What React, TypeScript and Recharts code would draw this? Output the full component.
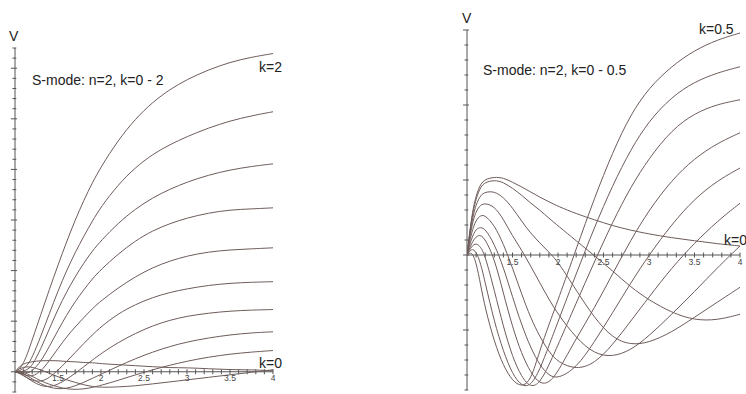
import { LineChart, Line, XAxis, YAxis, ReferenceLine } from 'recharts';

// shared sample points along x
const xs = [1, 1.05, 1.1, 1.15, 1.2, 1.3, 1.4, 1.5, 1.6, 1.7, 1.8, 1.9, 2, 2.2, 2.4, 2.6, 2.8, 3, 3.25, 3.5, 3.75, 4];

// left panel, k = 0 .. 2
const leftK00 = [0, 0.1, 0.16, 0.18, 0.2, 0.22, 0.22, 0.22, 0.2, 0.2, 0.18, 0.18, 0.16, 0.14, 0.12, 0.1, 0.08, 0.08, 0.06, 0.04, 0.04, 0.02];
const leftK02 = [0, 0.06, 0.09, 0.1, 0.09, 0.04, -0.03, -0.1, -0.16, -0.21, -0.26, -0.29, -0.31, -0.3, -0.28, -0.24, -0.2, -0.16, -0.11, -0.06, -0.01, 0.04];
const leftK04 = [0, 0.01, -0.01, -0.05, -0.09, -0.18, -0.25, -0.3, -0.34, -0.35, -0.34, -0.31, -0.27, -0.17, -0.06, 0.04, 0.13, 0.21, 0.29, 0.35, 0.39, 0.42];
const leftK06 = [0, -0.01, -0.04, -0.09, -0.14, -0.24, -0.31, -0.34, -0.33, -0.28, -0.21, -0.13, -0.05, 0.11, 0.26, 0.39, 0.5, 0.59, 0.67, 0.73, 0.77, 0.79];
const leftK08 = [0, -0.02, -0.07, -0.13, -0.19, -0.28, -0.3, -0.25, -0.15, -0.03, 0.1, 0.23, 0.36, 0.58, 0.76, 0.91, 1.02, 1.1, 1.16, 1.2, 1.22, 1.23];
const leftK10 = [0, -0.03, -0.08, -0.13, -0.17, -0.2, -0.12, 0.03, 0.2, 0.38, 0.56, 0.73, 0.89, 1.15, 1.33, 1.47, 1.57, 1.64, 1.71, 1.75, 1.77, 1.78];
const leftK12 = [0, -0.02, -0.05, -0.08, -0.09, 0, 0.22, 0.46, 0.69, 0.89, 1.07, 1.25, 1.4, 1.66, 1.88, 2.06, 2.19, 2.29, 2.37, 2.41, 2.43, 2.45];
const leftK14 = [0, -0.01, -0.02, -0.02, 0.01, 0.2, 0.5, 0.82, 1.12, 1.39, 1.62, 1.84, 2.02, 2.33, 2.59, 2.79, 2.93, 3.04, 3.14, 3.2, 3.22, 3.24];
const leftK16 = [0, 0, 0.01, 0.05, 0.12, 0.45, 0.85, 1.24, 1.58, 1.88, 2.15, 2.39, 2.59, 2.94, 3.22, 3.44, 3.61, 3.75, 3.89, 3.99, 4.06, 4.11];
const leftK18 = [0, 0.02, 0.06, 0.14, 0.28, 0.7, 1.15, 1.6, 2, 2.36, 2.68, 2.98, 3.26, 3.7, 4.04, 4.3, 4.49, 4.65, 4.82, 4.96, 5.06, 5.14];
const leftK20 = [0, 0.05, 0.17, 0.38, 0.63, 1.13, 1.63, 2.11, 2.57, 3, 3.39, 3.74, 4.05, 4.58, 5, 5.33, 5.58, 5.78, 5.97, 6.12, 6.22, 6.29];

// right panel, k = 0 .. 0.5
const rightR0 = [0, 0.52, 0.8, 0.95, 1.01, 1.04, 1.03, 0.97, 0.91, 0.84, 0.77, 0.71, 0.65, 0.55, 0.47, 0.39, 0.33, 0.28, 0.23, 0.19, 0.15, 0.12];
const rightR1 = [0, 0.49, 0.76, 0.91, 0.97, 1, 0.97, 0.89, 0.8, 0.69, 0.6, 0.49, 0.39, 0.19, -0.01, -0.21, -0.43, -0.6, -0.77, -0.87, -0.87, -0.79];
const rightR2 = [0, 0.44, 0.68, 0.8, 0.84, 0.85, 0.77, 0.63, 0.45, 0.29, 0.16, 0.04, -0.09, -0.47, -0.84, -1.11, -1.2, -1.17, -1.03, -0.83, -0.63, -0.43];
const rightR3 = [0, 0.39, 0.59, 0.67, 0.69, 0.65, 0.48, 0.25, 0.07, -0.15, -0.37, -0.59, -0.79, -1.11, -1.32, -1.36, -1.27, -1.08, -0.79, -0.49, -0.17, 0.12];
const rightR4 = [0, 0.31, 0.47, 0.53, 0.53, 0.4, 0.15, -0.17, -0.52, -0.84, -1.09, -1.29, -1.43, -1.53, -1.45, -1.2, -0.88, -0.56, -0.17, 0.16, 0.45, 0.69];
const rightR5 = [0, 0.23, 0.35, 0.37, 0.35, 0.15, -0.16, -0.56, -0.93, -1.24, -1.47, -1.61, -1.65, -1.51, -1.16, -0.77, -0.37, 0, 0.41, 0.75, 0.99, 1.16];
const rightR6 = [0, 0.16, 0.25, 0.27, 0.21, -0.04, -0.51, -0.96, -1.32, -1.57, -1.72, -1.71, -1.56, -1.11, -0.71, -0.25, 0.2, 0.6, 1, 1.29, 1.49, 1.63];
const rightR7 = [0, 0.12, 0.16, 0.11, -0.01, -0.47, -0.96, -1.36, -1.63, -1.77, -1.71, -1.47, -1.2, -0.64, -0.09, 0.44, 0.91, 1.29, 1.67, 1.89, 2.01, 2.07];
const rightR8 = [0, 0.09, 0.05, -0.11, -0.37, -0.89, -1.29, -1.59, -1.75, -1.75, -1.53, -1.21, -0.89, -0.25, 0.37, 0.93, 1.41, 1.79, 2.11, 2.31, 2.43, 2.51];
const rightR9 = [0, 0.05, -0.09, -0.4, -0.71, -1.16, -1.48, -1.68, -1.76, -1.68, -1.27, -0.93, -0.6, 0.08, 0.76, 1.37, 1.88, 2.23, 2.52, 2.73, 2.87, 2.96];

const xTickValues = [1.5, 2, 2.5, 3, 3.5, 4];
const xTickLabels = ['1.5', '2', '2.5', '3', '3.5', '4'];

const CURVE = '#6e5c5a';
const AXIS = '#555';
const FONT = 'Liberation Sans, Arial, sans-serif';

const leftSeries = [leftK00, leftK02, leftK04, leftK06, leftK08, leftK10, leftK12, leftK14, leftK16, leftK18, leftK20];
const rightSeries = [rightR0, rightR1, rightR2, rightR3, rightR4, rightR5, rightR6, rightR7, rightR8, rightR9];

function toRows(series: number[][]) {
  return xs.map((x, i) => {
    const row: Record<string, number> = { x };
    series.forEach((s, j) => (row['c' + j] = s[i]));
    return row;
  });
}

function steps(from: number, to: number, step: number) {
  const out: number[] = [];
  for (let v = from; v <= to + 1e-9; v += step) out.push(Math.round(v * 100) / 100);
  return out;
}

const xMinor = steps(1.1, 4, 0.1);

function Panel({ series, yDomain, yHalf, xHalf, width, height, margin }: any) {
  const data = toRows(series);
  const yTicks = steps(yDomain[0], yDomain[1], 0.2);
  return (
    <LineChart width={width} height={height} data={data} margin={margin}>
      <XAxis type="number" dataKey="x" domain={[1, 4]} hide allowDataOverflow />
      <YAxis type="number" domain={yDomain} hide allowDataOverflow />
      <ReferenceLine y={0} stroke={AXIS} strokeWidth={1} />
      <ReferenceLine x={1} stroke={AXIS} strokeWidth={1} />
      {xMinor.map((v) => {
        const i = xTickValues.findIndex((t) => Math.abs(t - v) < 1e-6);
        return (
          <ReferenceLine
            key={'xt' + v}
            segment={[{ x: v, y: -yHalf }, { x: v, y: yHalf }]}
            stroke={AXIS}
            ifOverflow="visible"
            label={i >= 0 ? { value: xTickLabels[i], position: 'bottom', offset: 1, fontSize: 8.5, fill: '#444', fontFamily: FONT } : undefined}
          />
        );
      })}
      {yTicks.map((v) => {
        const major = Math.abs(v - Math.round(v)) < 1e-6;
        const h = major ? xHalf * 1.6 : xHalf;
        return (
          <ReferenceLine
            key={'yt' + v}
            segment={[{ x: 1 - h, y: v }, { x: 1 + h * 0.5, y: v }]}
            stroke={AXIS}
            ifOverflow="visible"
          />
        );
      })}
      {series.map((_: number[], j: number) => (
        <Line
          key={'c' + j}
          dataKey={'c' + j}
          type="basis"
          dot={false}
          stroke={CURVE}
          strokeWidth={1}
          isAnimationActive={false}
        />
      ))}
    </LineChart>
  );
}

export default function App() {
  return (
    <div style={{ position: 'absolute', left: 0, top: 0, width: 746, height: 394, background: '#fff', overflow: 'hidden' }}>
      <div style={{ position: 'absolute', left: 0, top: 0 }}>
        <Panel
          series={leftSeries}
          yDomain={[-0.4, 6.4]}
          yHalf={0.05}
          xHalf={0.03}
          width={290}
          height={394}
          margin={{ top: 48, right: 17, bottom: 2, left: 15 }}
        />
      </div>
      <div style={{ position: 'absolute', left: 455, top: 0 }}>
        <Panel
          series={rightSeries}
          yDomain={[-1.8, 3.0]}
          yHalf={0.033}
          xHalf={0.027}
          width={291}
          height={394}
          margin={{ top: 30, right: 6, bottom: 4, left: 12 }}
        />
      </div>
      <svg width={746} height={394} style={{ position: 'absolute', left: 0, top: 0, pointerEvents: 'none' }}>
        <g fontFamily={FONT} fontSize={14} fill="#222">
          <text x={9} y={41}>V</text>
          <text x={32} y={85}>S-mode: n=2, k=0 - 2</text>
          <text x={259} y={72}>k=2</text>
          <text x={259} y={368}>k=0</text>
          <text x={462} y={23}>V</text>
          <text x={483} y={75}>S-mode: n=2, k=0 - 0.5</text>
          <text x={699} y={34}>k=0.5</text>
          <text x={724} y={245}>k=0</text>
        </g>
      </svg>
    </div>
  );
}
